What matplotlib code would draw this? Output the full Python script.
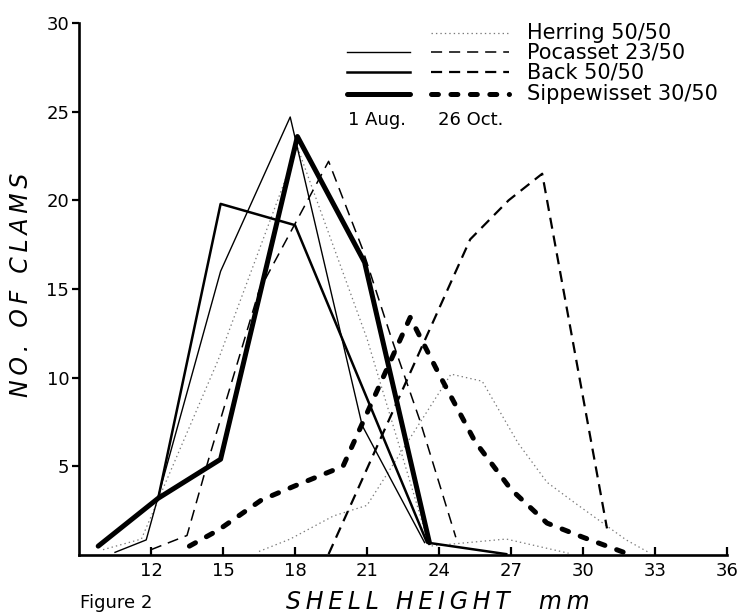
import matplotlib
matplotlib.use("Agg")
import matplotlib.pyplot as plt
from matplotlib.lines import Line2D
from matplotlib.ticker import FixedLocator

# ---------------- data ----------------
herring_aug_x = [10.0, 11.6, 14.8, 18.1, 21.0, 23.6, 26.8, 29.4]
herring_aug_y = [0.3, 0.9, 11.0, 23.0, 12.2, 0.5, 0.9, 0.1]
herring_oct_x = [16.5, 17.8, 19.6, 21.0, 24.5, 25.8, 27.3, 28.5, 29.7, 31.8, 32.8]
herring_oct_y = [0.2, 0.9, 2.2, 2.8, 10.2, 9.8, 6.3, 4.1, 2.9, 0.85, 0.1]

pocasset_aug_x = [10.5, 11.8, 14.9, 17.8, 20.8, 23.4]
pocasset_aug_y = [0.15, 0.85, 16.0, 24.7, 7.3, 0.7]
pocasset_oct_x = [12.0, 13.5, 14.4, 16.5, 19.4, 20.8, 22.0, 23.2, 24.7]
pocasset_oct_y = [0.3, 1.1, 5.4, 14.9, 22.2, 17.3, 12.3, 7.6, 1.0]

back_aug_x = [12.3, 14.9, 18.0, 23.5, 26.8]
back_aug_y = [3.2, 19.8, 18.6, 0.7, 0.05]
back_oct_x = [19.4, 25.3, 26.9, 28.3, 31.0]
back_oct_y = [0.05, 17.8, 20.0, 21.5, 1.5]

sipp_aug_x = [9.8, 12.3, 14.9, 18.1, 20.9, 23.6]
sipp_aug_y = [0.5, 3.2, 5.4, 23.6, 16.5, 0.7]
sipp_oct_x = [13.6, 14.8, 16.6, 18.0, 20.0, 22.8, 24.0, 25.5, 27.0, 28.5, 30.0, 31.8]
sipp_oct_y = [0.5, 1.4, 3.1, 3.9, 5.0, 13.4, 10.2, 6.4, 3.7, 1.8, 1.0, 0.1]

legend_labels = ["Herring 50/50", "Pocasset 23/50", "Back 50/50", "Sippewisset 30/50"]
date_labels = ["1 Aug.", "26 Oct."]
x_ticks = [12, 15, 18, 21, 24, 27, 30, 33, 36]
y_ticks = [5, 10, 15, 20, 25, 30]

# ---------------- styles ----------------
plt.rcParams['lines.scale_dashes'] = False
W, H = 747, 615
fig = plt.figure(figsize=(W / 100, H / 100), dpi=100)
ax = fig.add_axes([79 / W, 1 - 555 / H, (727 - 79) / W, (555 - 23) / H])

dot_style = dict(color='#7a7a7a', lw=0.9, linestyle=(0, (1.0, 2.2)))
thin = dict(color='black', lw=1.0)
med = dict(color='black', lw=1.8)
thick = dict(color='black', lw=3.6, solid_capstyle='round', solid_joinstyle='round')
thin_d = dict(color='black', lw=1.1, linestyle=(0, (8, 5)))
med_d = dict(color='black', lw=1.6, linestyle=(0, (8, 5)))
thick_d = dict(color='black', lw=3.6, linestyle=(0, (5, 9)), dash_capstyle='round')

ax.plot(herring_aug_x, herring_aug_y, **dot_style)
ax.plot(herring_oct_x, herring_oct_y, **dot_style)
ax.plot(pocasset_aug_x, pocasset_aug_y, **thin)
ax.plot(pocasset_oct_x, pocasset_oct_y, **thin_d)
ax.plot(back_aug_x, back_aug_y, **med)
ax.plot(back_oct_x, back_oct_y, **med_d)
ax.plot(sipp_aug_x, sipp_aug_y, **thick)
ax.plot(sipp_oct_x, sipp_oct_y, **thick_d)

ax.set_xlim(9, 36)
ax.set_ylim(0, 30)
for s in ['top', 'right']:
    ax.spines[s].set_visible(False)
for s in ['left', 'bottom']:
    ax.spines[s].set_linewidth(1.9)

ax.set_xticks(x_ticks)
ax.set_yticks(y_ticks)
ax.yaxis.set_minor_locator(FixedLocator([30]))
ax.tick_params(axis='x', direction='in', length=6, width=1.6, labelsize=13, pad=5)
ax.tick_params(axis='y', which='major', direction='out', length=5, width=1.6, labelsize=13, pad=2)
ax.tick_params(axis='y', which='minor', direction='in', length=5, width=1.6)

ax.set_xlabel("S\u2009H\u2009E\u2009L\u2009L\u2009 \u2009H\u2009E\u2009I\u2009G\u2009H\u2009T\u2009 \u2009 \u2009m\u2009m",
              fontsize=17, style='italic')
ax.set_ylabel("N\u2009O\u2009.\u2009 \u2009O\u2009F\u2009 \u2009C\u2009L\u2009A\u2009M\u2009S",
              fontsize=17, style='italic')
ax.xaxis.set_label_coords((438 - 79) / (727 - 79), (555 - 590) / (555 - 23))
ax.yaxis.set_label_coords((33 - 79) / (727 - 79), (555 - 285) / (555 - 23))

fig.text(80 / W, 1 - 603 / H, "Figure 2", fontsize=13, ha='left', va='center')

# ---------------- legend ----------------
def fx(px):
    return px / W

def fy(py):
    return 1 - py / H

rows_y = [33, 52, 72, 94]
left_styles = [None, thin, med, thick]
right_styles = [dot_style, thin_d, med_d, thick_d]
for yy, lab, ls, rs in zip(rows_y, legend_labels, left_styles, right_styles):
    if ls is not None:
        fig.add_artist(Line2D([fx(347), fx(410)], [fy(yy), fy(yy)], **ls))
    fig.add_artist(Line2D([fx(431), fx(509)], [fy(yy), fy(yy)], **rs))
    fig.text(fx(527), fy(yy), lab, fontsize=15, ha='left', va='center')

fig.text(fx(348), fy(120), date_labels[0], fontsize=13, ha='left', va='center')
fig.text(fx(438), fy(120), date_labels[1], fontsize=13, ha='left', va='center')

fig.savefig("out.png", dpi=100)
